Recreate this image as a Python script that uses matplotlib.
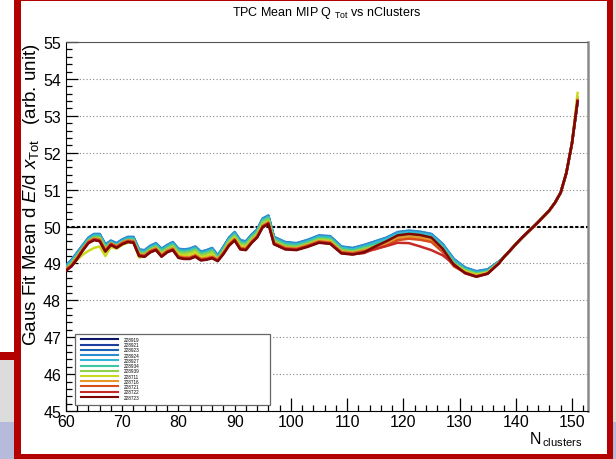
import matplotlib.pyplot as plt
from matplotlib.patches import Rectangle
from matplotlib.ticker import MultipleLocator

plt.rcParams['font.family'] = ['Liberation Sans', 'DejaVu Sans']
plt.rcParams['mathtext.fontset'] = 'custom'
plt.rcParams['mathtext.rm'] = 'Liberation Sans'
plt.rcParams['mathtext.it'] = 'Liberation Sans:italic'

# nClusters bins: every cluster up to 97, every second one through the plateau,
# then every cluster again on the steep tail
n_head = list(range(60, 98)) + list(range(99, 138, 2))
n_tail = list(range(138, 152))

runs = ['228919', '228921', '228923', '228924', '228927', '228934',
        '228939', '228711', '228716', '228721', '228722', '228723']
colors = ['#0b1666', '#1c3e9c', '#1b63b6', '#2b8dcd', '#33b5d9', '#3cc6a4',
          '#8fd24a', '#c9da1e', '#e6962a', '#d64e1c', '#c62a26', '#7e0606']

# mean dE/dx per run, head part (n_head bins)
run_228919 = [48.92, 49.07, 49.27, 49.47, 49.67, 49.77, 49.77, 49.49, 49.59, 49.52,
              49.62, 49.69, 49.69, 49.35, 49.33, 49.45, 49.52, 49.37, 49.47, 49.55,
              49.37, 49.35, 49.37, 49.43, 49.29, 49.33, 49.39, 49.19, 49.42, 49.67,
              49.82, 49.60, 49.57, 49.75, 49.89, 50.19, 50.27, 49.69,
              49.55, 49.52, 49.61, 49.73, 49.71, 49.43, 49.39, 49.47, 49.57, 49.67,
              49.82, 49.86, 49.83, 49.77, 49.50, 49.09, 48.86, 48.76, 48.81, 49.03]
run_228921 = [48.93, 49.08, 49.28, 49.48, 49.68, 49.78, 49.78, 49.50, 49.60, 49.53,
              49.63, 49.70, 49.70, 49.36, 49.34, 49.46, 49.53, 49.38, 49.48, 49.56,
              49.38, 49.36, 49.38, 49.44, 49.30, 49.34, 49.40, 49.20, 49.43, 49.68,
              49.83, 49.61, 49.58, 49.76, 49.90, 50.20, 50.28, 49.70,
              49.56, 49.53, 49.62, 49.74, 49.72, 49.44, 49.40, 49.48, 49.58, 49.68,
              49.83, 49.87, 49.84, 49.78, 49.51, 49.10, 48.87, 48.77, 48.82, 49.04]
run_228923 = [48.94, 49.09, 49.29, 49.49, 49.69, 49.79, 49.79, 49.51, 49.61, 49.54,
              49.64, 49.71, 49.71, 49.37, 49.35, 49.47, 49.54, 49.39, 49.49, 49.57,
              49.39, 49.37, 49.39, 49.45, 49.31, 49.35, 49.41, 49.21, 49.44, 49.69,
              49.84, 49.62, 49.59, 49.77, 49.91, 50.21, 50.29, 49.71,
              49.57, 49.54, 49.63, 49.75, 49.73, 49.45, 49.41, 49.49, 49.59, 49.69,
              49.84, 49.88, 49.85, 49.79, 49.52, 49.11, 48.88, 48.78, 48.83, 49.05]
run_228924 = [48.95, 49.10, 49.30, 49.50, 49.70, 49.80, 49.80, 49.52, 49.62, 49.55,
              49.65, 49.72, 49.72, 49.38, 49.36, 49.48, 49.55, 49.40, 49.50, 49.58,
              49.40, 49.38, 49.40, 49.46, 49.32, 49.36, 49.42, 49.22, 49.45, 49.70,
              49.85, 49.63, 49.60, 49.78, 49.92, 50.22, 50.30, 49.72,
              49.58, 49.55, 49.64, 49.76, 49.74, 49.46, 49.42, 49.50, 49.60, 49.70,
              49.85, 49.89, 49.86, 49.80, 49.53, 49.12, 48.89, 48.79, 48.84, 49.05]
run_228927 = [48.91, 49.06, 49.26, 49.46, 49.66, 49.76, 49.76, 49.48, 49.58, 49.51,
              49.61, 49.68, 49.68, 49.34, 49.32, 49.44, 49.51, 49.36, 49.46, 49.54,
              49.36, 49.34, 49.36, 49.42, 49.28, 49.32, 49.38, 49.18, 49.41, 49.66,
              49.81, 49.59, 49.56, 49.74, 49.88, 50.18, 50.26, 49.68,
              49.54, 49.51, 49.60, 49.72, 49.70, 49.42, 49.38, 49.46, 49.56, 49.66,
              49.81, 49.85, 49.82, 49.76, 49.49, 49.08, 48.85, 48.75, 48.80, 49.02]
run_228934 = [48.89, 49.04, 49.24, 49.44, 49.64, 49.74, 49.74, 49.46, 49.56, 49.49,
              49.59, 49.66, 49.66, 49.32, 49.30, 49.42, 49.49, 49.34, 49.44, 49.52,
              49.34, 49.32, 49.34, 49.40, 49.26, 49.30, 49.36, 49.16, 49.39, 49.64,
              49.79, 49.57, 49.54, 49.72, 49.86, 50.16, 50.24, 49.66,
              49.52, 49.49, 49.58, 49.70, 49.68, 49.40, 49.36, 49.44, 49.52, 49.62,
              49.77, 49.81, 49.78, 49.72, 49.45, 49.04, 48.84, 48.74, 48.79, 49.03]
run_228939 = [48.85, 49.00, 49.20, 49.40, 49.60, 49.70, 49.70, 49.42, 49.52, 49.45,
              49.55, 49.62, 49.62, 49.28, 49.26, 49.38, 49.45, 49.30, 49.40, 49.48,
              49.30, 49.28, 49.30, 49.36, 49.22, 49.26, 49.32, 49.12, 49.35, 49.60,
              49.75, 49.53, 49.50, 49.68, 49.82, 50.12, 50.20, 49.62,
              49.48, 49.45, 49.54, 49.66, 49.64, 49.36, 49.32, 49.40, 49.47, 49.57,
              49.72, 49.76, 49.73, 49.67, 49.40, 48.99, 48.81, 48.71, 48.76, 49.02]
run_228711 = [48.84, 48.94, 49.10, 49.24, 49.34, 49.42, 49.46, 49.20, 49.45, 49.40,
              49.50, 49.56, 49.58, 49.16, 49.20, 49.33, 49.40, 49.24, 49.35, 49.42,
              49.24, 49.22, 49.24, 49.30, 49.17, 49.20, 49.26, 49.09, 49.30, 49.55,
              49.70, 49.47, 49.44, 49.62, 49.76, 50.04, 50.12, 49.52,
              49.40, 49.40, 49.50, 49.62, 49.60, 49.32, 49.28, 49.34, 49.44, 49.53,
              49.67, 49.71, 49.68, 49.62, 49.36, 48.98, 48.78, 48.69, 48.75, 49.02]
run_228716 = [48.85, 48.97, 49.17, 49.40, 49.60, 49.68, 49.65, 49.37, 49.55, 49.47,
              49.57, 49.63, 49.61, 49.25, 49.23, 49.35, 49.41, 49.23, 49.35, 49.41,
              49.20, 49.17, 49.17, 49.23, 49.13, 49.15, 49.19, 49.11, 49.30, 49.53,
              49.67, 49.43, 49.41, 49.60, 49.75, 50.03, 50.12, 49.57,
              49.43, 49.41, 49.50, 49.61, 49.58, 49.32, 49.29, 49.35, 49.44, 49.54,
              49.69, 49.73, 49.70, 49.64, 49.37, 48.96, 48.76, 48.66, 48.74, 49.01]
run_228721 = [48.83, 48.95, 49.15, 49.38, 49.58, 49.66, 49.63, 49.35, 49.53, 49.45,
              49.55, 49.61, 49.59, 49.23, 49.21, 49.33, 49.39, 49.21, 49.33, 49.39,
              49.18, 49.15, 49.15, 49.21, 49.11, 49.13, 49.17, 49.09, 49.28, 49.51,
              49.65, 49.41, 49.39, 49.58, 49.73, 50.01, 50.10, 49.55,
              49.41, 49.39, 49.48, 49.59, 49.56, 49.30, 49.27, 49.33, 49.38, 49.48,
              49.63, 49.67, 49.64, 49.58, 49.31, 48.92, 48.75, 48.65, 48.73, 49.00]
run_228722 = [48.81, 48.93, 49.13, 49.36, 49.56, 49.64, 49.61, 49.33, 49.51, 49.43,
              49.53, 49.59, 49.57, 49.21, 49.19, 49.31, 49.37, 49.19, 49.31, 49.37,
              49.16, 49.13, 49.13, 49.19, 49.09, 49.11, 49.15, 49.07, 49.26, 49.49,
              49.63, 49.39, 49.37, 49.56, 49.71, 49.99, 50.08, 49.53,
              49.39, 49.37, 49.46, 49.57, 49.54, 49.28, 49.25, 49.28, 49.40, 49.47,
              49.56, 49.55, 49.46, 49.36, 49.22, 48.98, 48.73, 48.64, 48.72, 49.00]
run_228723 = [48.80, 48.92, 49.12, 49.35, 49.55, 49.63, 49.60, 49.32, 49.50, 49.42,
              49.52, 49.58, 49.56, 49.20, 49.18, 49.30, 49.36, 49.18, 49.30, 49.36,
              49.15, 49.12, 49.12, 49.18, 49.08, 49.10, 49.14, 49.06, 49.25, 49.48,
              49.62, 49.38, 49.36, 49.55, 49.70, 49.98, 50.07, 49.52,
              49.38, 49.36, 49.45, 49.56, 49.53, 49.27, 49.24, 49.30, 49.46, 49.60,
              49.76, 49.80, 49.77, 49.70, 49.40, 48.96, 48.74, 48.64, 48.72, 49.00]

# all runs agree on the rising tail (138..150), last bin (151) per run
tail_common = [49.19, 49.35, 49.52, 49.68, 49.83, 49.97, 50.12, 50.28, 50.44,
               50.65, 50.92, 51.45, 52.25]
last_bin = [53.38, 53.38, 53.40, 53.40, 53.42, 53.45, 53.50, 53.62, 53.45,
            53.40, 53.40, 53.40]

heads = [run_228919, run_228921, run_228923, run_228924, run_228927, run_228934,
         run_228939, run_228711, run_228716, run_228721, run_228722, run_228723]

fig = plt.figure(figsize=(6.16, 4.6), dpi=100)
ax = fig.add_axes([0.1071, 0.1043, 0.8474, 0.8022])

nclus = n_head + n_tail
lines = []
for head, end, c in zip(heads, last_bin, colors):
    l, = ax.plot(nclus, head + tail_common + [end], color=c, lw=1.8,
                 solid_joinstyle='round', zorder=3)
    lines.append(l)

ax.axhline(50, color='black', ls=(0, (1.6, 1.0)), lw=1.5, zorder=2)

ax.set_xlim(60, 152.85)
ax.set_ylim(45, 55)
ax.xaxis.set_major_locator(MultipleLocator(10))
ax.xaxis.set_minor_locator(MultipleLocator(2))
ax.yaxis.set_major_locator(MultipleLocator(1))
ax.yaxis.set_minor_locator(MultipleLocator(0.2))
ax.tick_params(which='both', direction='in', top=False, right=False,
               labelsize=11.5, width=0.9)
ax.tick_params(axis='x', which='major', length=9.5, pad=2.5)
ax.tick_params(axis='x', which='minor', length=4.5)
ax.tick_params(axis='y', which='major', length=8.5, pad=3.5)
ax.tick_params(axis='y', which='minor', length=4.5)
ax.grid(axis='y', which='major', ls=(0, (1, 2)), color='#888888', lw=0.8)

ax.spines['top'].set_linestyle((0, (1, 1)))
ax.spines['top'].set_color('#555555')
ax.spines['right'].set_color('#8a8a8a')
ax.spines['right'].set_linewidth(1.8)

ax.set_ylabel(r'Gaus Fit Mean d $E$/d $x_{\mathrm{Tot}}$   (arb. unit)',
              fontsize=13.5, loc='top')
ax.yaxis.set_label_coords(-0.046, 1.0)
ax.set_xlabel(r'$\mathrm{N}_{\,\mathrm{clusters}}$', fontsize=11.5, loc='right')
ax.xaxis.set_label_coords(0.99, -0.05)

fig.text(327 / 616, 1 - 13 / 460, r'TPC Mean MIP Q $_{\mathrm{Tot}}$ vs nClusters',
         ha='center', va='center', fontsize=9)

# legend box with the run list
ax.add_patch(Rectangle((0.0172, 0.0163), 0.374, 0.1924, transform=ax.transAxes,
                       facecolor='white', edgecolor='#666666', lw=0.9, zorder=4))
leg = ax.legend(lines, runs, loc='upper left', bbox_to_anchor=(0.0287, 0.2005),
                frameon=False, fontsize=3.3, handlelength=8.1, handletextpad=1.3,
                labelspacing=0.05, borderpad=0, borderaxespad=0)
leg.set_zorder(5)
for h in leg.legend_handles:
    h.set_linewidth(1.5)


# window frame around the canvas
def box(x, y, w, h, color):
    fig.add_artist(Rectangle((x / 616, 1 - (y + h) / 460), w / 616, h / 460,
                             transform=fig.transFigure, facecolor=color,
                             edgecolor='none', zorder=10))


red = '#b30000'
box(0, 361, 14, 62, '#dcdcdc')
box(0, 423, 14, 37, '#b6badb')
box(613, 0, 3, 423, '#dcdcdc')
box(613, 423, 3, 37, '#b6badb')
box(14, 0, 7, 460, red)
box(14, 0, 599, 2, red)
box(607, 0, 6, 460, red)
box(14, 455, 599, 5, red)
box(0, 353, 21, 8, red)

fig.savefig('out.png', dpi=100)
